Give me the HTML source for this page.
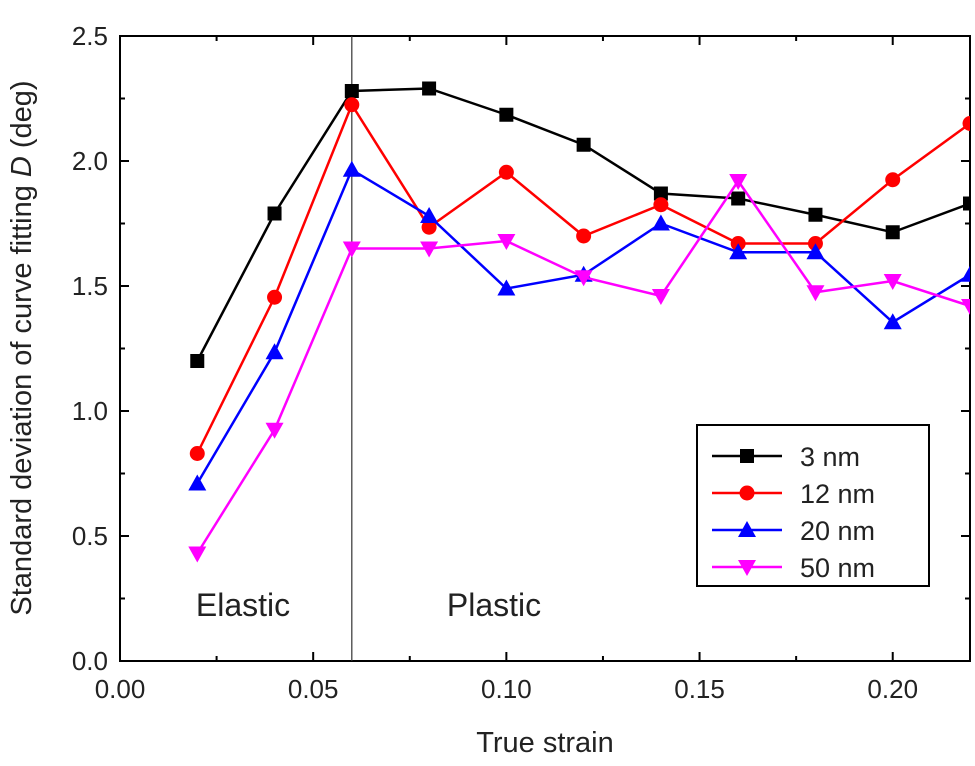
<!DOCTYPE html>
<html><head><meta charset="utf-8"><style>
body{margin:0;background:#fff;font-family:"Liberation Sans",Arial,sans-serif}
svg text{font-family:"Liberation Sans",Arial,sans-serif;fill:#222}
</style></head><body>
<svg id="c" width="975" height="761"></svg>
<script>
const xs=[0.02,0.04,0.06,0.08,0.10,0.12,0.14,0.16,0.18,0.20,0.22];
const s3=[1.2,1.79,2.28,2.29,2.185,2.065,1.87,1.85,1.785,1.715,1.83];
const s12=[0.83,1.455,2.225,1.735,1.955,1.70,1.825,1.67,1.67,1.925,2.15];
const s20=[0.71,1.235,1.965,1.78,1.49,1.545,1.75,1.635,1.635,1.355,1.545];
const s50=[0.43,0.925,1.65,1.65,1.68,1.535,1.46,1.92,1.475,1.52,1.42];
const xTicks=["0.00","0.05","0.10","0.15","0.20"];
const yTicks=["0.0","0.5","1.0","1.5","2.0","2.5"];
const L=120,R=970,T=36,B=661,XMAX=0.22,YMAX=2.5;
const X=v=>L+v/XMAX*(R-L), Y=v=>B-v/YMAX*(B-T);
const svg=document.getElementById('c');const NS='http://www.w3.org/2000/svg';
function mk(t,a,p){const e=document.createElementNS(NS,t);for(const k in a)e.setAttribute(k,a[k]);(p||svg).appendChild(e);return e;}
const defs=mk('defs',{});const cp=mk('clipPath',{id:'cp'},defs);mk('rect',{x:L,y:T,width:R-L,height:B-T},cp);
let e=mk('rect',{x:L,y:T,width:R-L,height:B-T,fill:'none',stroke:'#000','stroke-width':2});

for(let i=0;i<=8;i++){const v=i*0.025;const x=X(v);const len=i%2==0?9:5;
 mk('line',{x1:x,x2:x,y1:B,y2:B-len,stroke:'#000','stroke-width':2});
 mk('line',{x1:x,x2:x,y1:T,y2:T+len,stroke:'#000','stroke-width':2});}
xTicks.forEach(t=>{const el=mk('text',{x:X(+t),y:B+37,'font-size':26,'text-anchor':'middle'});el.textContent=t;
 });
for(let i=0;i<=10;i++){const v=i*0.25;const y=Y(v);const len=i%2==0?9:5;
 mk('line',{x1:L,x2:L+len,y1:y,y2:y,stroke:'#000','stroke-width':2});
 mk('line',{x1:R,x2:R-len,y1:y,y2:y,stroke:'#000','stroke-width':2});}
yTicks.forEach(t=>{const el=mk('text',{x:L-12,y:Y(+t)+9,'font-size':26,'text-anchor':'end'});el.textContent=t;
 });
e=mk('text',{x:545,y:752,'font-size':29,'text-anchor':'middle'});e.textContent='True strain';

e=mk('text',{x:0,y:0,'font-size':29,'text-anchor':'middle',transform:'translate(31,348) rotate(-90)'});
e.innerHTML='Standard deviation of curve fitting <tspan font-style="italic">D</tspan> (deg)';

e=mk('line',{x1:X(0.06),x2:X(0.06),y1:T,y2:B,stroke:'#333','stroke-width':1.2});

e=mk('text',{x:243,y:616,'font-size':32,'text-anchor':'middle'});e.textContent='Elastic';

e=mk('text',{x:494,y:616,'font-size':32,'text-anchor':'middle'});e.textContent='Plastic';

function marker(type,x,y,c,g){const s=7;
 if(type=='sq')return mk('rect',{x:x-s,y:y-s,width:2*s,height:2*s,fill:c},g);
 if(type=='ci')return mk('circle',{cx:x,cy:y,r:7.5,fill:c},g);
 if(type=='up')return mk('polygon',{points:`${x},${y-9} ${x-9},${y+7} ${x+9},${y+7}`,fill:c},g);
 return mk('polygon',{points:`${x},${y+9} ${x-9},${y-7} ${x+9},${y-7}`,fill:c},g);}
const series=[[s3,'#000','sq','3 nm'],[s12,'#f00','ci','12 nm'],[s20,'#00f','up','20 nm'],[s50,'#f0f','dn','50 nm']];
series.forEach(([d,c,m,n],k)=>{const g=mk('g',{'clip-path':'url(#cp)'});
 
 mk('polyline',{points:d.map((v,i)=>X(xs[i])+','+Y(v)).join(' '),fill:'none',stroke:c,'stroke-width':2.5},g);
 d.forEach((v,i)=>{const p=marker(m,X(xs[i]),Y(v),c,g);});
});
const lg=mk('g',{});
mk('rect',{x:697,y:425,width:232,height:161,fill:'#fff',stroke:'#000','stroke-width':2},lg);
series.forEach(([d,c,m,n],k)=>{const y=456+k*37;
 const g=mk('g',{},lg);
 mk('line',{x1:712,x2:782,y1:y,y2:y,stroke:c,'stroke-width':2.5},g);marker(m,747,y,c,g);
 const t=mk('text',{x:800,y:y+10,'font-size':27},g);t.textContent=n;});
</script></body></html>
